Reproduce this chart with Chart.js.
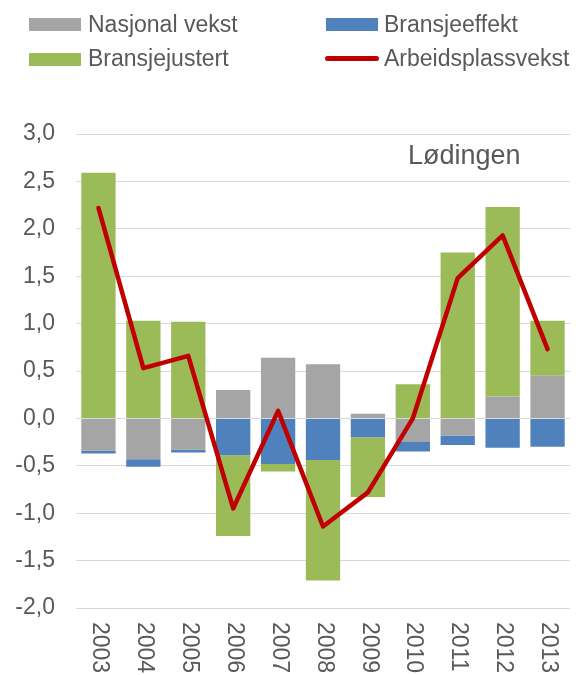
<!DOCTYPE html>
<html>
<head>
<meta charset="utf-8">
<script src="https://cdn.jsdelivr.net/npm/chart.js@4"></script>
<style>
  body { margin: 0; background: #fff; }
  #wrap { position: relative; width: 579px; height: 675px; font-family: "Liberation Sans", Arial, sans-serif; color: #595959; }
  #wrap canvas { position: absolute; left: 0; top: 0; }
  .sw { position: absolute; height: 12.5px; width: 52px; }
  .ln { position: absolute; height: 5px; width: 54px; border-radius: 3px; background: #C00000; }
  .lt { position: absolute; font-size: 23px; line-height: 23px; white-space: nowrap; }
</style>
</head>
<body>
<div id="wrap">
  <canvas id="chart"></canvas>
  <div class="sw" style="left:29px;top:18px;background:#A5A5A5"></div>
  <div class="lt" style="left:88px;top:13px">Nasjonal vekst</div>
  <div class="sw" style="left:326px;top:18px;background:#4F81BD"></div>
  <div class="lt" style="left:384px;top:13px">Bransjeeffekt</div>
  <div class="sw" style="left:29px;top:53px;background:#9BBB59"></div>
  <div class="lt" style="left:88px;top:47px">Bransjejustert</div>
  <div class="ln" style="left:325px;top:56px"></div>
  <div class="lt" style="left:384px;top:47px">Arbeidsplassvekst</div>
</div>
<script>
const years = ["2003", "2004", "2005", "2006", "2007", "2008", "2009", "2010", "2011", "2012", "2013"];
const nasjonalVekst = [-0.34, -0.43, -0.33, 0.30, 0.64, 0.57, 0.05, -0.25, -0.18, 0.23, 0.45];
const bransjeeffekt = [-0.03, -0.08, -0.03, -0.39, -0.48, -0.44, -0.20, -0.10, -0.10, -0.31, -0.30];
const bransjejustert = [2.59, 1.03, 1.02, -0.85, -0.08, -1.27, -0.63, 0.36, 1.75, 2.00, 0.58];
const arbeidsplassvekst = [2.22, 0.53, 0.66, -0.95, 0.08, -1.14, -0.78, 0.00, 1.48, 1.93, 0.73];
const title = "Lødingen";

const FONT = '"Liberation Sans", Arial, sans-serif';
const TXT = "#595959";

function barCfg(label, data, color) {
  return {
    type: "bar",
    label,
    data,
    backgroundColor: color,
    borderWidth: 0,
    barPercentage: 0.764,
    categoryPercentage: 1,
    order: 1,
  };
}

// zero axis line over the bars, under the red line
const zeroLine = {
  id: "zeroLine",
  beforeDatasetDraw(chart, args) {
    if (args.meta.type !== "line") return;
    const { ctx, chartArea } = chart;
    const y = Math.round(chart.scales.y.getPixelForValue(0)) + 0.5;
    ctx.save();
    ctx.strokeStyle = "#D9D9D9";
    ctx.lineWidth = 1;
    ctx.beginPath();
    ctx.moveTo(chartArea.left, y);
    ctx.lineTo(chartArea.right, y);
    ctx.stroke();
    ctx.restore();
  },
};

// x labels read top to bottom, plus the place name
const extras = {
  id: "extras",
  afterDraw(chart) {
    const { ctx, chartArea } = chart;
    const xs = chart.scales.x;
    ctx.save();
    ctx.fillStyle = TXT;
    ctx.font = "23px " + FONT;
    ctx.textAlign = "left";
    ctx.textBaseline = "middle";
    years.forEach((lbl, i) => {
      ctx.save();
      ctx.translate(xs.getPixelForTick(i) + 1, chartArea.bottom + 14);
      ctx.rotate(Math.PI / 2);
      ctx.fillText(lbl, 0, 0);
      ctx.restore();
    });
    ctx.font = "27px " + FONT;
    ctx.textBaseline = "alphabetic";
    ctx.fillText(title, chartArea.right - 162, chart.scales.y.getPixelForValue(3) + 29.5);
    ctx.restore();
  },
};

new Chart(document.getElementById("chart"), {
  data: {
    labels: years,
    datasets: [
      barCfg("Nasjonal vekst", nasjonalVekst, "#A5A5A5"),
      barCfg("Bransjeeffekt", bransjeeffekt, "#4F81BD"),
      barCfg("Bransjejustert", bransjejustert, "#9BBB59"),
      {
        type: "line",
        label: "Arbeidsplassvekst",
        data: arbeidsplassvekst,
        borderColor: "#C00000",
        backgroundColor: "#C00000",
        borderWidth: 4.5,
        borderJoinStyle: "round",
        borderCapStyle: "round",
        pointRadius: 0,
        tension: 0,
        stack: "line",
        order: 0,
      },
    ],
  },
  options: {
    responsive: true,
    maintainAspectRatio: false,
    animation: false,
    layout: { padding: { top: 134, right: 9, left: 0, bottom: 0 } },
    plugins: {
      legend: { display: false },
      tooltip: { enabled: false },
    },
    scales: {
      x: {
        stacked: true,
        grid: { display: false },
        border: { display: false },
        ticks: { display: false },
        afterFit: (s) => { s.height = 67; },
      },
      y: {
        stacked: true,
        min: -2,
        max: 3,
        grid: { color: "#D9D9D9", lineWidth: 1, drawTicks: false },
        border: { display: false },
        ticks: {
          stepSize: 0.5,
          padding: 21,
          color: TXT,
          font: { family: FONT, size: 23 },
          callback: (v) => v.toFixed(1).replace(".", ","),
        },
        afterFit: (s) => { s.width = 76; },
      },
    },
  },
  plugins: [zeroLine, extras],
});
</script>
</body>
</html>
